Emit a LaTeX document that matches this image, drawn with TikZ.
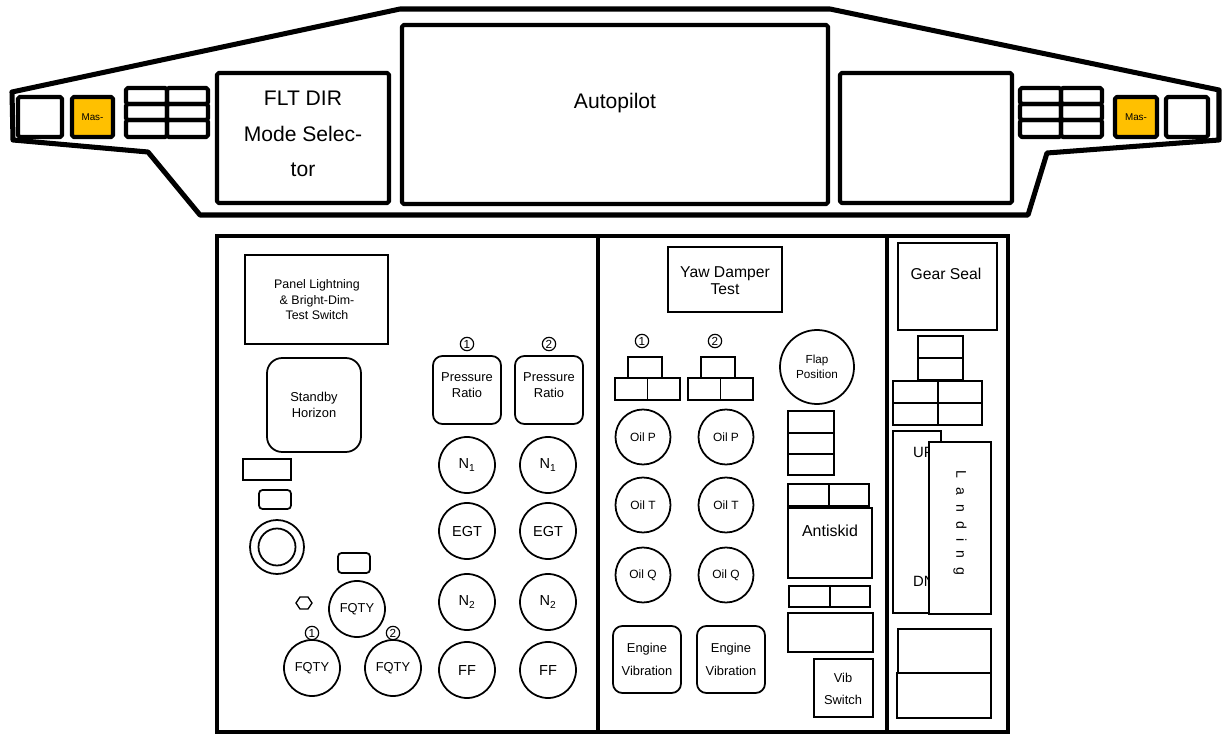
\documentclass[tikz,border=0pt]{standalone}
\usepackage{fontspec}
\setmainfont{Liberation Sans}
\usepackage{tikz}
\usetikzlibrary{shapes.geometric}
\definecolor{masteramber}{HTML}{FFC000}

\begin{document}
\begin{tikzpicture}[x=0.03cm, y=-0.03cm,
    heavy/.style={draw, line width=3.6pt, line join=round, rounded corners=1.5pt},
    light/.style={draw, line width=1.5pt},
    lbl/.style={align=center, inner sep=0pt},
    gauge/.style={circle, draw, line width=1.5pt, minimum size=1.68cm,
      inner sep=0pt, align=center, font=\fontsize{12.4}{14}\selectfont},
    cnum/.style={circle, draw, line width=1pt, minimum size=0.4cm,
      inner sep=0pt, font=\fontsize{10}{10}\selectfont},
]
\useasboundingbox (0,0) rectangle (1223,734);

% Glareshield outline
\draw[line width=4.3pt, line join=round]
  (12,92) -- (400,9) -- (830,9) -- (1219,90) -- (1219,140) -- (1047,153)
  -- (1028,215) -- (200,215) -- (148,152) -- (13,140) -- cycle;

% Glareshield switches
\draw[heavy] (18,97) rectangle (62,137);
\draw[heavy, fill=masteramber] (72,97) rectangle (113,137);
\node[lbl, font=\fontsize{8.4}{9}\selectfont] (mwl-l) at (92.5,117) {Mas-};
\draw[heavy] (1166,97) rectangle (1208,137);
\draw[heavy, fill=masteramber] (1115,97) rectangle (1157,137);
\node[lbl, font=\fontsize{8.4}{9}\selectfont] (mwl-r) at (1136,117) {Mas-};
\foreach \gx in {126,1020} {
  \foreach \cx in {0,41} {
    \foreach \ya/\yb in {88/104, 104/120, 120/137} {
      \draw[heavy] (\gx+\cx,\ya) rectangle (\gx+\cx+41,\yb);
    }
  }
}

% Glareshield panels
\draw[heavy] (217,73) rectangle (389,203);
\node[lbl, font=\fontsize{18}{30.5}\selectfont] (fltdir) at (303,134)
  {FLT DIR\\Mode Selec-\\tor};
\draw[heavy] (402,25) rectangle (828,204);
\node[lbl, font=\fontsize{18}{20}\selectfont] (autopilot) at (615,103) {Autopilot};
\draw[heavy] (840,73) rectangle (1012,203);

% Main panel frames
\foreach \xa/\xb in {217/598, 598/887, 887/1008} {
  \draw[line width=3.6pt] (\xa,236) rectangle (\xb,732);
}

% Left panel
\draw[light] (245,255) rectangle (388,344);
\node[lbl, font=\fontsize{10.6}{13.2}\selectfont] (lighting) at (317,300)
  {Panel Lightning\\\& Bright-Dim-\\Test Switch};
\draw[light, rounded corners=13pt] (267,358) rectangle (361,452);
\node[lbl, font=\fontsize{11}{13.6}\selectfont] (stbyhor) at (314,405)
  {Standby\\Horizon};
\draw[light] (243,459) rectangle (291,480);
\draw[light, rounded corners=3pt] (259,490) rectangle (291,509);
\draw[light] (277,547) circle[radius=27];
\draw[light] (277,547) circle[radius=18.5];
\draw[light, rounded corners=3pt] (338,553) rectangle (370,573);
\draw[line width=1.1pt] (296,603) -- (300,597) -- (308,597) -- (312,603)
  -- (308,609) -- (300,609) -- cycle;
\node[gauge, font=\fontsize{11}{13}\selectfont] (fqty-c) at (357,609) {FQTY};
\foreach \i/\fx in {1/312, 2/393} {
  \node[cnum] (fqnum-\i) at (\fx,633) {\i};
  \node[gauge, font=\fontsize{11}{13}\selectfont] (fqty-\i) at (\fx,668) {FQTY};
}

% Engine gauges
\foreach \i/\px in {1/467, 2/549} {
  \draw[light, rounded corners=8pt] (\px-34,356) rectangle (\px+34,424);
  \node[lbl, font=\fontsize{11}{13.6}\selectfont] (epr-\i) at (\px,385)
    {Pressure\\Ratio};
  \node[cnum] (eprnum-\i) at (\px,344) {\i};
}
\foreach \g/\gy/\txt in {n1/465/N\textsubscript{1}, egt/531/EGT,
  n2/602/N\textsubscript{2}, ff/670/FF} {
  \node[gauge] (\g-1) at (467,\gy) {\txt};
  \node[gauge] (\g-2) at (548,\gy) {\txt};
}

% Center panel
\draw[light] (668,247) rectangle (782,312);
\node[lbl, font=\fontsize{13.4}{14.5}\selectfont] (yawdamper) at (725,281)
  {Yaw Damper\\Test};
\foreach \i/\sx in {1/615, 2/688} {
  \node[cnum] (sysnum-\i) at (\sx+27,341) {\i};
  \draw[light] (\sx+13,357) rectangle (\sx+47,378);
  \draw[light] (\sx,378) rectangle (\sx+32.5,400);
  \draw[light] (\sx+32.5,378) rectangle (\sx+65,400);
}
\node[gauge, minimum size=2.22cm, font=\fontsize{10}{12.8}\selectfont]
  (flap) at (817,367) {Flap\\Position};
\foreach \g/\gy/\txt in {oilp/437/Oil P, oilt/505/Oil T, oilq/575/Oil Q} {
  \node[gauge, minimum size=1.65cm, font=\fontsize{10.2}{12}\selectfont]
    (\g-1) at (643,\gy) {\txt};
  \node[gauge, minimum size=1.65cm, font=\fontsize{10.2}{12}\selectfont]
    (\g-2) at (726,\gy) {\txt};
}
\foreach \ya/\yb in {411/433, 433/454, 454/475} {
  \draw[light] (788,\ya) rectangle (834,\yb);
}
\draw[light] (788,484) rectangle (829,506);
\draw[light] (829,484) rectangle (869,506);
\draw[light] (788,508) rectangle (872,578);
\node[lbl, font=\fontsize{13.6}{15}\selectfont] (antiskid) at (830,531) {Antiskid};
\draw[light] (789,586) rectangle (830,607);
\draw[light] (830,586) rectangle (870,607);
\draw[light] (788,613) rectangle (873,652);
\draw[light] (814,659) rectangle (873,717);
\node[lbl, font=\fontsize{11}{19}\selectfont] (vibsw) at (843,689) {Vib\\Switch};
\foreach \i/\vx in {1/647, 2/731} {
  \draw[light, rounded corners=8pt] (\vx-34,626) rectangle (\vx+34,693);
  \node[lbl, font=\fontsize{11}{19.5}\selectfont] (engvib-\i) at (\vx,659)
    {Engine\\Vibration};
}

% Right panel
\draw[light] (898,243) rectangle (997,330);
\node[lbl, font=\fontsize{13.4}{15}\selectfont] (gearseal) at (946,274) {Gear Seal};
\draw[light] (918,336) rectangle (963,358);
\draw[light] (918,358) rectangle (963,380);
\foreach \ya/\yb in {381/403, 403/425} {
  \draw[light] (893,\ya) rectangle (938,\yb);
  \draw[light] (938,\ya) rectangle (982,\yb);
}
\draw[light] (893,431) rectangle (941,613);
\node[lbl, anchor=west, font=\fontsize{12.7}{14}\selectfont] (gearup) at (913,452) {UP};
\node[lbl, anchor=west, font=\fontsize{12.7}{14}\selectfont] (geardn) at (913,581) {DN};
\draw[light, fill=white] (929,442) rectangle (991,614);
\node[lbl, rotate=-90, font=\fontsize{12}{14}\selectfont] (landing) at (960,523)
  {\spaceskip=7.7pt\relax L a n d i n g};
\draw[light] (898,629) rectangle (991,673);
\draw[light] (897,673) rectangle (991,718);

\end{tikzpicture}
\end{document}
